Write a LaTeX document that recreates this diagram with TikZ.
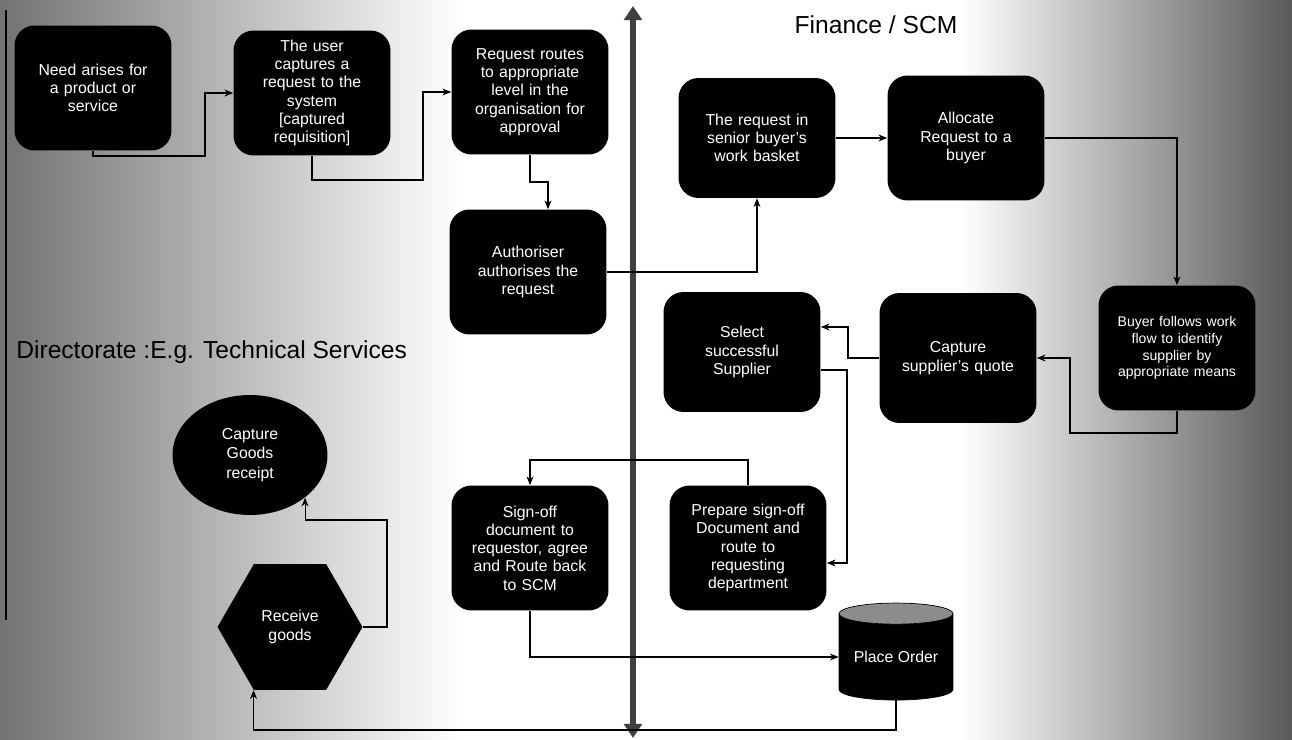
\documentclass[tikz,border=0pt]{standalone}
\usepackage{fontspec}
\setmainfont{Liberation Sans}
\usetikzlibrary{shapes.geometric,arrows.meta,calc}
\begin{document}
\begin{tikzpicture}[x=0.02cm,y=-0.02cm,
  box/.style={rectangle, rounded corners=0.4cm, fill=black, text=white, align=center,
    minimum width=3.14cm, minimum height=2.5cm, text width=2.8cm,
    font=\fontsize{9}{10.4}\selectfont, inner sep=2pt},
  conn/.style={draw=black, line width=0.6pt, -{Stealth[length=5pt,width=4pt]}},
  plainline/.style={draw=black, line width=0.6pt},
  lane/.style={font=\fontsize{14}{16}\selectfont, text=black, inner sep=0pt},
  divider/.style={line width=3.2pt, draw=black!75,
    {Triangle[length=8pt,width=10pt]}-{Triangle[length=8pt,width=10pt]}}]
\useasboundingbox (0,0) rectangle (1292,740);
% background
\fill[white] (0,0) rectangle (1292,740);
\shade[left color=black!55, right color=white] (0,0) rectangle (460,740);
\shade[left color=white, right color=black!65] (960,0) rectangle (1292,740);
\coordinate (lt) at (6,10);
\coordinate (lb) at (6,620);
\draw[line width=1.2pt] (lt) -- (lb);

% lane labels
\node[lane] (fin) at (876,25) {Finance / SCM};
\node[lane, anchor=west] (dir) at (16,352) {Directorate :E.g. Technical Services};

% divider
\coordinate (dt) at (633,6);
\coordinate (db) at (633,738);
\draw[divider] (dt) -- (db);

% boxes
\node[box] (b1) at (93,88) {Need arises for\\ a product or\\ service};
\node[box] (b2) at (312,93) {The user\\ captures a\\ request to the\\ system\\ {[}captured\\ requisition]};
\node[box] (b3) at (530,92) {Request routes\\ to appropriate\\ level in the\\ organisation for\\ approval};
\node[box] (b4) at (528,272) {Authoriser\\ authorises the\\ request};
\node[box, minimum height=2.4cm] (b5) at (757,138) {The request in\\ senior buyer's\\ work basket};
\node[box] (b6) at (966,138) {Allocate\\ Request to a\\ buyer};
\node[box, font=\fontsize{8}{9.6}\selectfont] (b7) at (1177,348) {Buyer follows work\\ flow to identify\\ supplier by\\ appropriate means};
\node[box, minimum height=2.6cm] (b8) at (958,358) {Capture\\ supplier's quote};
\node[box, minimum height=2.4cm] (b9) at (742,352) {Select\\ successful\\ Supplier};
\node[box] (b10) at (748,548) {Prepare sign-off\\ Document and\\ route to\\ requesting\\ department};
\node[box] (b11) at (530,548) {Sign-off\\ document to\\ requestor, agree\\ and Route back\\ to SCM};

\node[ellipse, fill=black, text=white, align=center, minimum width=3.1cm, minimum height=2.4cm,
  inner sep=0pt, font=\fontsize{9}{11}\selectfont] (ge) at (250,455) {Capture\\ Goods\\ receipt};
\node[regular polygon, regular polygon sides=6, fill=black, text=white, align=center,
  minimum size=2.9cm, inner sep=0pt, font=\fontsize{9}{11}\selectfont] (hx) at (290,627) {Receive\\ goods};
\node[cylinder, shape border rotate=90, aspect=0.25, draw=black, cylinder uses custom fill,
  cylinder body fill=black, cylinder end fill=black!45, text=white, minimum width=2.28cm,
  minimum height=1.94cm, inner sep=0pt, font=\fontsize{9}{11}\selectfont] (po) at (896,657) {Place Order};

% connectors
\coordinate (k12) at (205,156);
\draw[conn] (b1.south) |- (k12) |- (b2.west);
\coordinate (k23) at (423,180);
\draw[conn] (b2.south) |- (k23) |- (b3.west);
\coordinate (k34) at (548,182);
\draw[conn] (b3.south) |- (k34) -- (k34 |- b4.north);
\draw[conn] (b4.east) -| (b5.south);
\draw[conn] (b5.east) -- (b6.west);
\draw[conn] (b6.east) -| (b7.north);
\coordinate (k78) at (1070,433);
\draw[conn] (b7.south) |- (k78) |- (b8.east);
\coordinate (k89) at (848,327);
\draw[conn] (b8.west) -| (k89) -- (k89 -| b9.east);
\coordinate (k910) at (847,563);
\draw[conn] ([yshift=-0.36cm]b9.east) -| (k910) -- (k910 -| b10.east);
\coordinate (k1011) at (530,460);
\draw[conn] (b10.north) |- (k1011) -- (b11.north);
\draw[conn] (b11.south) |- (po.180);
\coordinate (bot) at (0,730);
\draw[conn] (po.south) -- (po.south |- bot) -| (hx.240);
\coordinate (h1) at (387,520);
\draw[conn] (hx.east) -| (h1) -| (ge.south east);
\end{tikzpicture}
\end{document}
